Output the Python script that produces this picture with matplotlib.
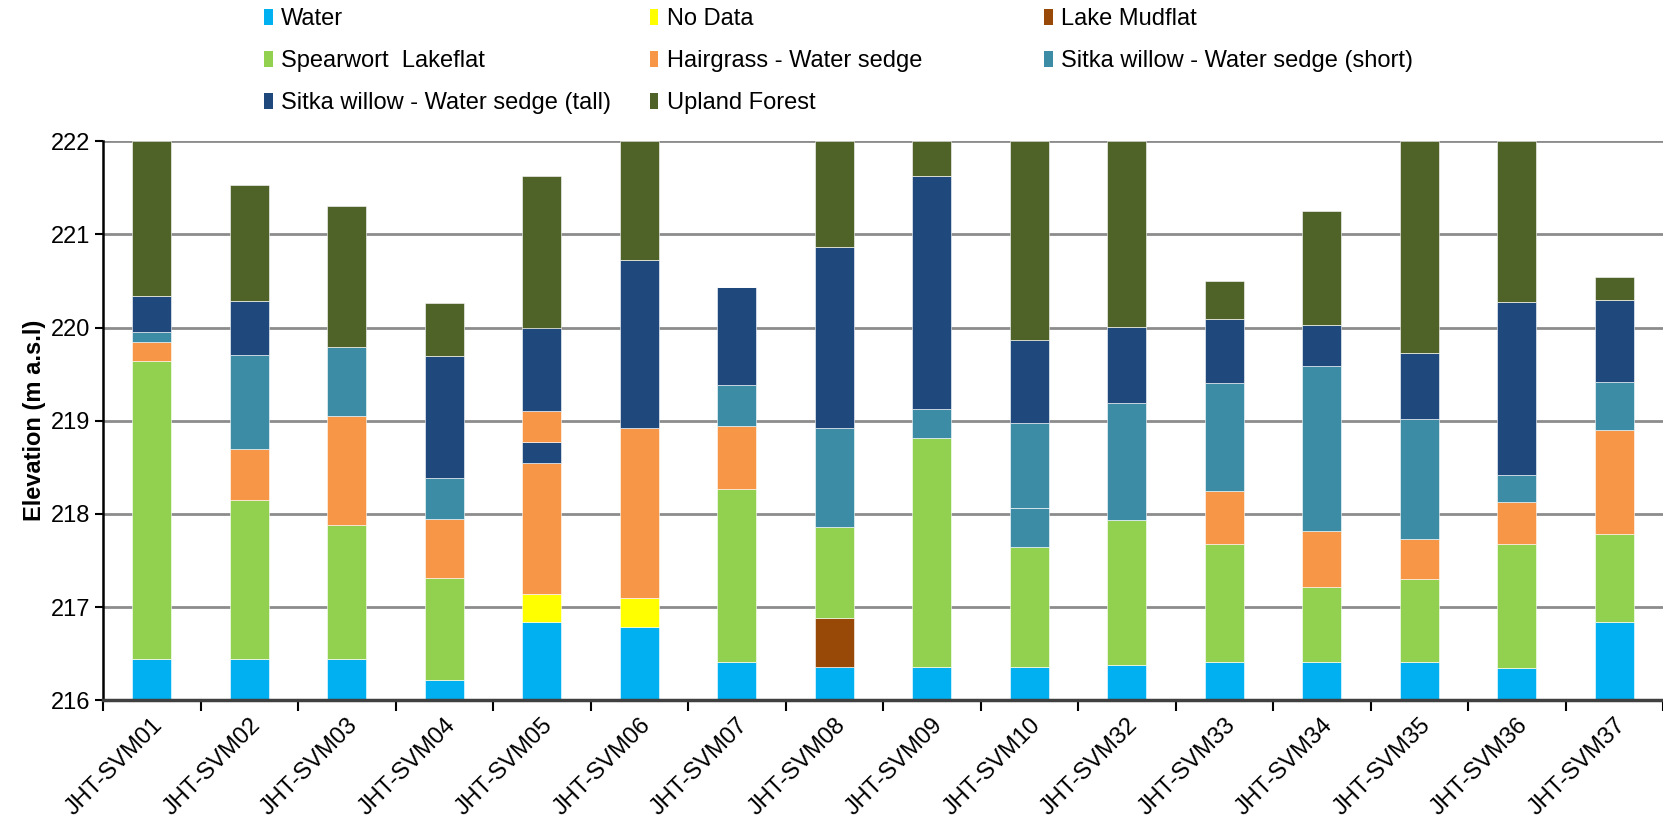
import numpy as np
import matplotlib.pyplot as plt
from matplotlib.patches import Patch

plt.rcParams["font.family"] = ["Liberation Sans", "DejaVu Sans"]

sites = ["JHT-SVM01", "JHT-SVM02", "JHT-SVM03", "JHT-SVM04", "JHT-SVM05",
         "JHT-SVM06", "JHT-SVM07", "JHT-SVM08", "JHT-SVM09", "JHT-SVM10",
         "JHT-SVM32", "JHT-SVM33", "JHT-SVM34", "JHT-SVM35", "JHT-SVM36",
         "JHT-SVM37"]
base = 216.0

# thickness of each vegetation zone (m), stacked from the bottom up
water = [0.44, 0.44, 0.44, 0.22, 0.84, 0.79, 0.41, 0.36, 0.36, 0.36, 0.38, 0.41, 0.41, 0.41, 0.35, 0.84]
no_data = [0, 0, 0, 0, 0.30, 0.31, 0, 0, 0, 0, 0, 0, 0, 0, 0, 0]
mudflat = [0, 0, 0, 0, 0, 0, 0, 0.52, 0, 0, 0, 0, 0, 0, 0, 0]
spearwort = [3.20, 1.71, 1.44, 1.09, 0, 0, 1.86, 0.98, 2.46, 1.28, 1.56, 1.27, 0.81, 0.89, 1.33, 0.95]
hairgrass = [0.20, 0.55, 1.17, 0.64, 1.41, 1.82, 0.67, 0, 0, 0, 0, 0.57, 0.60, 0.43, 0.45, 1.11]
willow_short = [0.11, 1.01, 0.74, 0.44, 0, 0, 0.44, 1.06, 0.31, 0.42, 1.25, 1.16, 1.77, 1.29, 0.29, 0.52]
willow_tall = [0.39, 0.58, 0, 1.30, 0.22, 1.81, 1.06, 1.95, 2.50, 0, 0.82, 0.68, 0.44, 0.71, 1.85, 0.88]
hairgrass_upper = [0, 0, 0, 0, 0.34, 0, 0, 0, 0, 0, 0, 0, 0, 0, 0, 0]
willow_short_upper = [0, 0, 0, 0, 0, 0, 0, 0, 0, 0.92, 0, 0, 0, 0, 0, 0]
willow_tall_upper = [0, 0, 0, 0, 0.89, 0, 0, 0, 0, 0.89, 0, 0, 0, 0, 0, 0]
upland = [1.66, 1.24, 1.51, 0.57, 1.63, 1.27, 0, 1.13, 0.37, 2.13, 1.99, 0.41, 1.22, 2.27, 1.73, 0.24]

class_names = ["Water", "No Data", "Lake Mudflat", "Spearwort  Lakeflat",
               "Hairgrass - Water sedge", "Sitka willow - Water sedge (short)",
               "Sitka willow - Water sedge (tall)", "Upland Forest"]
class_colors = ["#00B0F0", "#FFFF00", "#984807", "#92D050",
                "#F79646", "#3B8CA4", "#1F497D", "#4F6228"]

layers = [
    (water, 0), (no_data, 1), (mudflat, 2), (spearwort, 3), (hairgrass, 4),
    (willow_short, 5), (willow_tall, 6), (hairgrass_upper, 4),
    (willow_short_upper, 5), (willow_tall_upper, 6), (upland, 7),
]

fig = plt.figure(figsize=(16.63, 8.21), dpi=100)
ax = fig.add_axes([0.062, 0.147, 0.938, 0.681])

x = np.arange(len(sites))
bottom = np.full(len(sites), base)
for values, k in layers:
    values = np.asarray(values)
    ax.bar(x, values, 0.4, bottom=bottom, color=class_colors[k],
           edgecolor="white", linewidth=0.4, zorder=2)
    bottom = bottom + values

ax.set_ylim(216, 222)
ax.set_xlim(-0.5, len(sites) - 0.5)
ax.set_yticks(np.arange(216, 223, 1))
ax.tick_params(axis="y", labelsize=17, direction="out", length=6, width=1.5, pad=3)
ax.yaxis.grid(True, color="#8c8c8c", linewidth=2, zorder=0)
ax.set_axisbelow(True)

ax.set_xticks(x)
ax.set_xticklabels(sites, rotation=45, ha="right", rotation_mode="anchor", fontsize=17)
ax.tick_params(axis="x", length=0, pad=10)
ax.set_xticks(np.arange(-0.5, len(sites), 1), minor=True)
ax.tick_params(axis="x", which="minor", direction="out", length=8, width=1.5)

ax.set_ylabel("Elevation (m a.s.l)", fontsize=17, fontweight="bold", labelpad=4)

for side in ["top", "right"]:
    ax.spines[side].set_visible(False)
ax.spines["left"].set_linewidth(1.8)
ax.spines["bottom"].set_linewidth(2.5)
ax.spines["bottom"].set_color("#404040")

# legend laid out as three equal-width columns, filled row by row
col_x = [0.159, 0.391, 0.628]
for c in range(3):
    idx = list(range(c, len(class_names), 3))
    handles = [Patch(facecolor=class_colors[i], edgecolor="none") for i in idx]
    fig.legend(handles, [class_names[i] for i in idx], loc="upper left",
               bbox_to_anchor=(col_x[c], 0.99), frameon=False, fontsize=17,
               handlelength=0.35, handleheight=0.65, handletextpad=0.35,
               labelspacing=0.85, borderpad=0, borderaxespad=0)

fig.savefig("out.png", dpi=100)
